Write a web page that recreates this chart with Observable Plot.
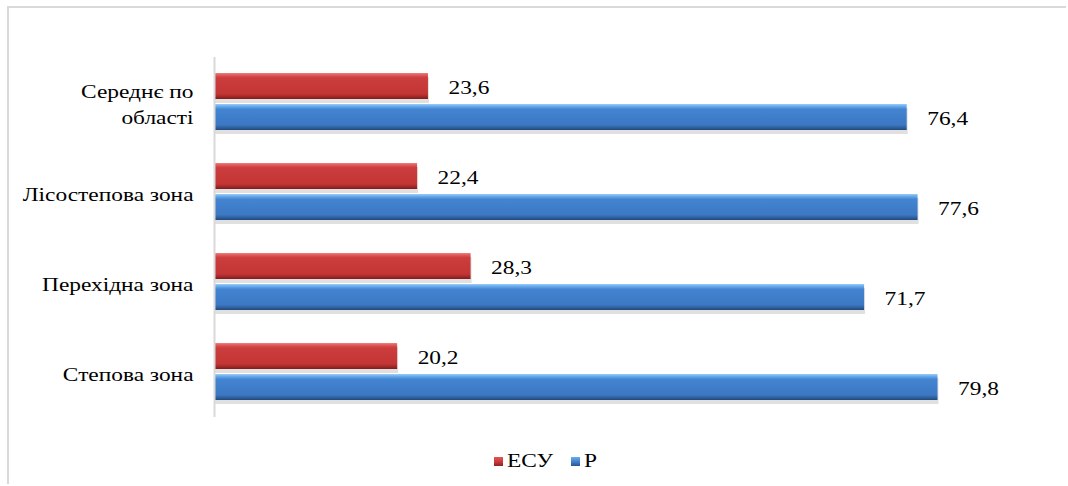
<!DOCTYPE html>
<html>
<head>
<meta charset="utf-8">
<script src="https://cdn.jsdelivr.net/npm/d3@7"></script>
<script src="https://cdn.jsdelivr.net/npm/@observablehq/plot@0.6"></script>
<style>
  .serif { font-family: "Liberation Serif", serif; }
  #frame { position: absolute; left: 7px; top: 6px; width: 1059px; height: 478px; border-left: 2px solid #d9d9d9; border-top: 2px solid #d9d9d9; box-sizing: border-box; }
  #chart { position: absolute; left: 0; top: 0; }
  #legend .sw { position: absolute; width: 9px; height: 9px; top: 457px; }
  #legend .lbl { position: absolute; top: 451px; font-size: 19px; line-height: 19px; color: #000; white-space: nowrap; transform-origin: 0 0; transform: scaleX(1.23); }
</style>
</head>
<body class="serif" style="margin:0;font-family:'Liberation Serif',serif">
<div id="frame"></div>
<div id="chart"></div>
<div id="legend">
  <div class="sw" style="left:494px;background:linear-gradient(#e05858, #c43636 60%, #8f2222)"></div>
  <div class="lbl serif" style="left:507px">ЕСУ</div>
  <div class="sw" style="left:571px;background:linear-gradient(#6aaeee, #3c78c4 60%, #2a5590)"></div>
  <div class="lbl serif" style="left:584px">Р</div>
</div>
<script>
// Зони області (зверху вниз)
const categories = ["Середнє по\nобласті", "Лісостепова зона", "Перехідна зона", "Степова зона"];
// Серії
const series = ["ЕСУ", "Р"];
const esuValues = [23.6, 22.4, 28.3, 20.2];
const rValues = [76.4, 77.6, 71.7, 79.8];

const rows = categories.flatMap((c, i) => [
  {zone: c, series: series[0], value: esuValues[i]},
  {zone: c, series: series[1], value: rValues[i]}
]);

const fmt = v => v.toFixed(1).replace(".", ",");
const serif = "Liberation Serif";
const fontSize = 19;
const stretch = 1.23; // ширина накреслення підписів

const chart = Plot.plot({
  width: 1068,
  height: 440,
  marginTop: 56,
  marginBottom: 22,
  marginLeft: 214,
  marginRight: 38,
  style: {fontFamily: serif, fontSize: fontSize + "px", color: "#000", background: "transparent", overflow: "visible"},
  x: {domain: [0, 90], axis: null},
  fy: {domain: categories, padding: 0, label: null},
  y: {domain: series, paddingInner: 0.156, paddingOuter: 0.49, axis: null},
  marks: [
    Plot.axisFy({anchor: "left", tickSize: 0, tickPadding: 21, label: null, fontSize, fontFamily: serif, lineHeight: 1.4}),
    // тінь під смугами
    Plot.barX(rows, {x: "value", y: "series", fy: "zone", fill: "#000", fillOpacity: 0.12, dy: 3, dx: 1, insetTop: 1, insetBottom: -1}),
    Plot.barX(rows.filter(d => d.series === "ЕСУ"), {x: "value", y: "series", fy: "zone", fill: "url(#gradRed)", insetTop: 0, insetBottom: 0}),
    Plot.barX(rows.filter(d => d.series === "Р"), {x: "value", y: "series", fy: "zone", fill: "url(#gradBlue)", insetTop: 0, insetBottom: 0}),
    Plot.ruleX([0], {stroke: "#d9d9d9", strokeWidth: 2}),
    Plot.text(rows, {x: "value", y: "series", fy: "zone", text: d => fmt(d.value), textAnchor: "start", dx: 20, dy: 1, fontSize, fontFamily: serif, fill: "#000"})
  ]
});

// Градієнти для об'ємного вигляду смуг
const defs = d3.select(chart).insert("defs", ":first-child");
function gradient(id, stops) {
  const g = defs.append("linearGradient").attr("id", id).attr("x1", 0).attr("y1", 0).attr("x2", 0).attr("y2", 1);
  stops.forEach(([o, c]) => g.append("stop").attr("offset", o).attr("stop-color", c));
}
gradient("gradRed", [[0, "#f08080"], [0.08, "#e05858"], [0.18, "#cc3e3e"], [0.8, "#c43636"], [0.9, "#a52a2a"], [1, "#7d1c1c"]]);
gradient("gradBlue", [[0, "#9ccdf7"], [0.08, "#6aaeee"], [0.2, "#4384d0"], [0.8, "#3c78c4"], [0.9, "#30629f"], [1, "#22487a"]]);

document.getElementById("chart").appendChild(chart);

// Багаторядкові підписи осі позначаються для центрування
d3.select(chart).selectAll("text").each(function() {
  if (this.querySelectorAll("tspan").length > 1 && this.getAttribute("text-anchor") === "end") {
    this.setAttribute("data-center", "1");
    this.setAttribute("text-anchor", "middle");
  }
});

// Ширина підписів: вимірювання після завантаження шрифту
function fitLabels() {
  d3.select(chart).selectAll("text").each(function() {
    const tspans = Array.from(this.querySelectorAll("tspan"));
    const parts = tspans.length ? tspans : [this];
    parts.forEach(t => { t.removeAttribute("textLength"); t.removeAttribute("lengthAdjust"); });
    if (this.getAttribute("data-center")) {
      let w = 0;
      tspans.forEach(t => { w = Math.max(w, t.getComputedTextLength()); });
      tspans.forEach(t => t.setAttribute("x", -w * stretch / 2));
    }
    parts.forEach(t => {
      const len = t.getComputedTextLength();
      if (len > 0) {
        t.setAttribute("textLength", len * stretch);
        t.setAttribute("lengthAdjust", "spacingAndGlyphs");
      }
    });
  });
}
fitLabels();
if (document.fonts) {
  document.fonts.load(fontSize + 'px "Liberation Serif"', "Лісостепова 23,6").then(fitLabels, () => {});
  document.fonts.ready.then(fitLabels);
}
</script>
</body>
</html>
